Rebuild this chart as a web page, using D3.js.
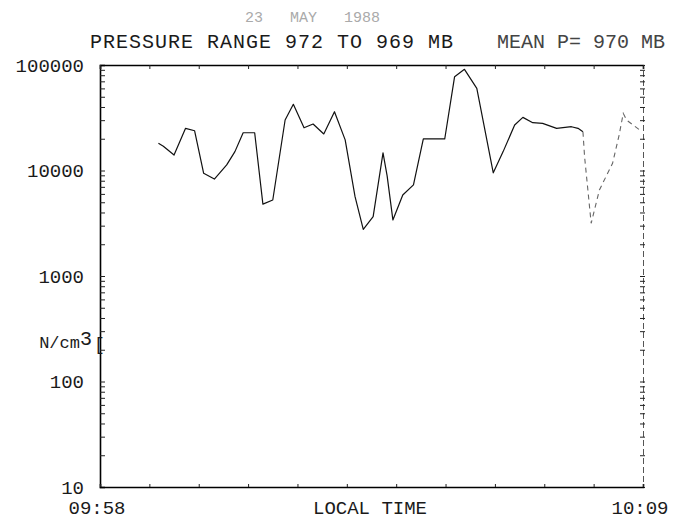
<!DOCTYPE html>
<html>
<head>
<meta charset="utf-8">
<script src="https://cdn.jsdelivr.net/npm/d3@7"></script>
<style>
  body { margin: 0; background: #fff; }
  text { font-family: "Liberation Mono", "DejaVu Sans Mono", monospace; fill: #1a1a1a; }
</style>
</head>
<body>
<div id="chart"></div>
<script>
// readings taken off the plot
const times = ["09:59:11","09:59:17","09:59:30","09:59:44","09:59:55","10:00:06","10:00:19","10:00:34",
  "10:00:44","10:00:54","10:01:08","10:01:18","10:01:30","10:01:45","10:01:55","10:02:08","10:02:19",
  "10:02:32","10:02:45","10:02:58","10:03:10","10:03:20","10:03:32","10:03:44","10:03:49","10:03:56",
  "10:04:08","10:04:21","10:04:33","10:04:59","10:05:11","10:05:23","10:05:38","10:05:58","10:06:10",
  "10:06:24","10:06:34","10:06:46","10:06:58","10:07:15","10:07:33","10:07:41","10:07:47"]
const counts = [18100,17000,14000,25100,23800,9400,8300,11300,
  15100,22800,22800,4800,5250,30100,42400,25400,27600,
  22200,36100,19500,5650,2770,3650,14700,8900,3400,
  5860,7300,19900,19900,77500,91000,60100,9500,15100,
  27000,31900,28400,28000,25100,26000,25100,23300]
// faint trailing part of the trace
const tailTimes = ["10:07:47","10:07:49","10:07:57","10:08:07","10:08:23","10:08:31","10:08:36","10:08:40","10:08:56"]
const tailCounts = [23300,13500,3160,6530,11700,21700,34800,30100,24200]

const decades = [10,100,1000,10000,100000]
const timeLabels = ["09:58","10:09"]

const width = 682, height = 520
const pLeft = 100, pRight = 643, pTop = 65, pBottom = 487
const parse = d3.timeParse("%H:%M:%S")

const svg = d3.select('#chart')
  .append('svg')
  .attr('width', width)
  .attr('height', height)

const x = d3.scaleTime()
  .domain([parse("09:58:00"), parse("10:09:00")])
  .range([pLeft, pRight])
const y = d3.scaleLog()
  .domain([10, 100000])
  .range([pBottom, pTop])

const minor = []
decades.forEach(d => { for (let k = 1; k < 10; k++) if (d * k <= 100000) minor.push(d * k) })

// left frame with inward ticks
const lAxis = svg.append('g')
  .attr('transform', `translate(${pLeft},0)`)
  .call(d3.axisRight(y).tickValues(minor).tickSize(5).tickFormat(''))
lAxis.select('.domain').attr('stroke-width', 1.6)

// decade labels
svg.append('g')
  .attr('transform', `translate(${pLeft},0)`)
  .call(d3.axisLeft(y).tickValues(decades).tickSize(0).tickPadding(16).tickFormat(d3.format('d')))
  .call(g => g.select('.domain').remove())
  .selectAll('text')
  .style('font-family', '"Liberation Mono", monospace')
  .style('font-size', '19px')
  .style('fill', '#1a1a1a')

// right frame, crossing ticks, faint
const rAxis = svg.append('g')
  .attr('transform', `translate(${pRight},0)`)
  .call(d3.axisLeft(y).tickValues(minor).tickSize(3).tickFormat(''))
rAxis.select('.domain').attr('stroke', '#555').attr('stroke-dasharray', '6,3')
svg.append('g')
  .attr('transform', `translate(${pRight},0)`)
  .call(d3.axisRight(y).tickValues(minor).tickSize(2).tickFormat(''))
  .call(g => g.select('.domain').remove())

// top and bottom frames with minute ticks
const minutes = d3.timeMinute.range(parse("09:58:00"), parse("10:09:01"))
svg.append('g')
  .attr('transform', `translate(0,${pTop})`)
  .call(d3.axisBottom(x).tickValues(minutes).tickSize(4).tickFormat(''))
  .select('.domain').attr('stroke-width', 1.6)
svg.append('g')
  .attr('transform', `translate(0,${pBottom})`)
  .call(d3.axisTop(x).tickValues(minutes).tickSize(3).tickFormat(''))
  .select('.domain').attr('stroke-width', 1.6)

svg.selectAll('.tick line').attr('stroke', '#222')

// time labels at the ends
svg.selectAll('.tlabel')
  .data(timeLabels)
  .enter()
  .append('text')
  .attr('class', 'tlabel')
  .attr('x', d => x(parse(d + ":00")) - 3)
  .attr('y', 514)
  .attr('text-anchor', 'middle')
  .style('font-size', '19px')
  .text(d => d)

svg.append('text')
  .text('LOCAL TIME')
  .attr('x', 370)
  .attr('y', 514)
  .attr('text-anchor', 'middle')
  .style('font-size', '19px')

// unit label
const unit = svg.append('text')
  .attr('x', 92)
  .attr('y', 348)
  .attr('text-anchor', 'end')
  .style('font-size', '17px')
unit.append('tspan').text('N/cm')
unit.append('tspan').text('3').attr('dy', -3).style('font-size', '20px')
svg.append('text').text('[').attr('x', 94).attr('y', 350).style('font-size', '18px')

// titles
svg.append('text')
  .text('23   MAY   1988')
  .attr('x', 245)
  .attr('y', 22)
  .attr('xml:space', 'preserve')
  .style('white-space', 'pre')
  .style('font-size', '15px')
  .style('fill', '#aaa')
svg.append('text')
  .text('PRESSURE RANGE 972 TO 969 MB')
  .attr('x', 90)
  .attr('y', 48)
  .style('font-size', '20px')
  .style('letter-spacing', '1px')
svg.append('text')
  .text('MEAN P= 970 MB')
  .attr('x', 497)
  .attr('y', 48)
  .style('font-size', '20px')
  .style('fill', '#444')

// trace
const line = d3.line()
  .x(d => x(parse(d[0])))
  .y(d => y(d[1]))

svg.append('path')
  .datum(times.map((t, i) => [t, counts[i]]))
  .attr('d', line)
  .attr('fill', 'none')
  .attr('stroke', '#111')
  .attr('stroke-width', 1.2)
  .attr('stroke-linejoin', 'round')

svg.append('path')
  .datum(tailTimes.map((t, i) => [t, tailCounts[i]]))
  .attr('d', line)
  .attr('fill', 'none')
  .attr('stroke', '#666')
  .attr('stroke-width', 1.1)
  .attr('stroke-dasharray', '5,4')
</script>
</body>
</html>
